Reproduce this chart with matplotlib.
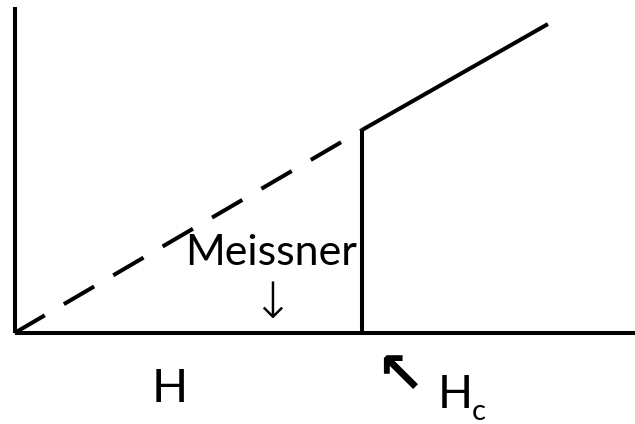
import matplotlib
matplotlib.use("Agg")
import matplotlib.pyplot as plt

# Data (H in units of Hc, M in units of M(Hc))
h_dashed = [0.0, 1.0]
m_dashed = [0.0, 1.0]
h_vertical = [1.0, 1.0]
m_vertical = [0.0, 1.0]
h_solid = [1.0, 1.535]
m_solid = [1.0, 1.522]
labels = {"meissner": "Meissner", "h": "H", "hc_main": "H", "hc_sub": "c"}

W, H = 635, 424
fig = plt.figure(figsize=(W / 100, H / 100), dpi=100)
x0, y0 = 14.5, 333.0
ax = fig.add_axes([x0 / W, (H - y0) / H, 1 - x0 / W, (y0 - 7) / H])
ax.set_xlim(0, (W - x0) / 347.5)
ax.set_ylim(0, (y0 - 7) / 203.0)
for s in ["top", "right"]:
    ax.spines[s].set_visible(False)
for s in ["left", "bottom"]:
    ax.spines[s].set_linewidth(2.9)
    ax.spines[s].set_capstyle("butt")
ax.set_xticks([])
ax.set_yticks([])
ax.patch.set_alpha(0)

lw = 2.9
ln, = ax.plot(h_dashed, m_dashed, color="black", lw=lw, solid_capstyle="butt", clip_on=False)
ln.set_dashes((8.7, 5.5))
ln.set_dash_capstyle("butt")
ax.plot(h_vertical, m_vertical, color="black", lw=lw, solid_capstyle="butt", clip_on=False)
ax.plot(h_solid, m_solid, color="black", lw=lw, solid_capstyle="butt", clip_on=False)

font = "Lato"
fig.text(271 / W, 1 - 265 / H, labels["meissner"], fontsize=31, family=font,
         ha="center", va="baseline")
fig.text(272 / W, 1 - 304 / H, "\u2193", fontsize=36, family="DejaVu Sans",
         ha="center", va="center", fontweight="light")
fig.text(170 / W, 1 - 402 / H, labels["h"], fontsize=34, family=font,
         ha="center", va="baseline")
fig.text(400 / W, 1 - 376 / H, "\u2196", fontsize=42, family="DejaVu Sans",
         ha="center", va="center", fontweight="bold")
fig.text(438 / W, 1 - 408 / H, labels["hc_main"], fontsize=33, family=font,
         ha="left", va="baseline")
fig.text(472 / W, 1 - 420 / H, labels["hc_sub"], fontsize=21, family=font,
         ha="left", va="baseline")

fig.savefig("out.png", dpi=100, facecolor="white")
